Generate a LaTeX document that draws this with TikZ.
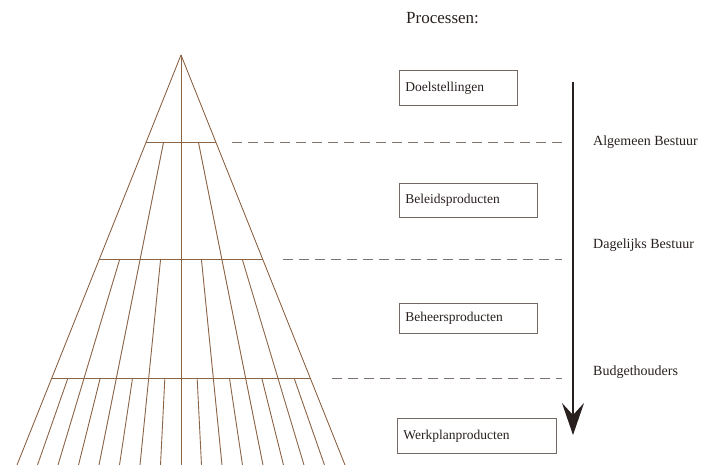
\documentclass[tikz,border=0pt]{standalone}
\usepackage{fontspec}
\setmainfont{Liberation Serif}
\usetikzlibrary{arrows.meta}
\definecolor{pyr}{RGB}{140,100,70}
\definecolor{dsh}{RGB}{125,115,110}
\definecolor{ink}{RGB}{40,32,30}
\definecolor{boxc}{RGB}{115,105,100}
\begin{document}
\begin{tikzpicture}[x=1pt,y=-1pt,
  pline/.style={draw=pyr,line width=0.9pt,line join=round},
  dline/.style={draw=dsh,line width=1pt,dash pattern=on 10pt off 6pt},
  prodbox/.style={draw=boxc,line width=0.9pt,anchor=north west,inner xsep=6pt,inner ysep=0pt,
    align=left,font=\fontsize{13.5}{15}\selectfont,text=ink},
  lvllabel/.style={anchor=west,inner sep=0pt,font=\fontsize{14}{15}\selectfont,text=ink},
  flowarrow/.style={draw=ink,line width=1.4pt,-{Stealth[length=32pt,width=22pt,inset=12pt]}}]
\useasboundingbox (0,0) rectangle (703,464);
\begin{scope}
\clip (0,0) rectangle (703,464);
\coordinate (apex) at (181,55);
% outline
\draw[pline] ({181-0.4*(480-55)},480) -- (apex) -- ({181+0.4*(480-55)},480);
% radial division lines
\foreach \f/\ys in {0/55,-0.5/142,0.5/142,-0.25/259,0.25/259,-0.75/259,0.75/259,
  -0.125/378,0.125/378,-0.375/378,0.375/378,-0.625/378,0.625/378,-0.875/378,0.875/378}
  \draw[pline] ({181+\f*0.4*(\ys-55)},\ys) -- ({181+\f*0.4*(480-55)},480);
% level lines
\foreach \ys in {142,259,378}
  \draw[pline] ({181-0.4*(\ys-55)},\ys) -- ({181+0.4*(\ys-55)},\ys);
\end{scope}
% dashed separators
\coordinate (d1a) at (232,142); \coordinate (d1b) at (562,142);
\coordinate (d2a) at (283,259); \coordinate (d2b) at (562,259);
\coordinate (d3a) at (332,378); \coordinate (d3b) at (562,378);
\draw[dline] (d1a) -- (d1b);
\draw[dline] (d2a) -- (d2b);
\draw[dline] (d3a) -- (d3b);
% title
\node[anchor=west,inner sep=0pt,font=\fontsize{17}{19}\selectfont,text=ink] (title) at (406,18) {Processen:};
% product boxes
\node[prodbox,text width=106pt,minimum height=35pt] (doel) at (399,70) {Doelstellingen};
\node[prodbox,text width=126pt,minimum height=34pt] (beleid) at (399,183) {Beleidsproducten};
\node[prodbox,text width=126pt,minimum height=30pt] (beheer) at (399,303) {Beheersproducten};
\node[prodbox,text width=147pt,minimum height=35pt] (werk) at (397,418) {Werkplanproducten};
% arrow
\coordinate (atop) at (573,82);
\coordinate (abot) at (573,435);
\draw[flowarrow] (atop) -- (abot);
% level labels
\node[lvllabel] (alg) at (593,142) {Algemeen Bestuur};
\node[lvllabel] (dag) at (593,245) {Dagelijks Bestuur};
\node[lvllabel] (bud) at (593,372) {Budgethouders};
\end{tikzpicture}
\end{document}
